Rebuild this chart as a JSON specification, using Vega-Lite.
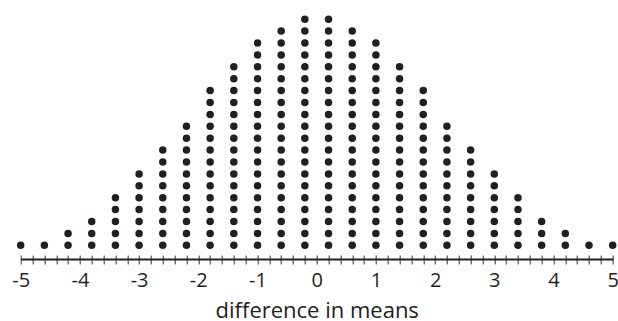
{
  "$schema": "https://vega.github.io/schema/vega-lite/v6.json",
  "width": 592,
  "height": 259,
  "autosize": "none",
  "padding": {"left": 20.7, "top": 0, "right": 5.3, "bottom": 62},
  "background": "white",
  "config": {"view": {"stroke": null}, "font": "Open Sans"},
  "data": {"values": [
    {"diff": -5},
    {"diff": -4.6},
    {"diff": -4.2},{"diff": -4.2},
    {"diff": -3.8},{"diff": -3.8},{"diff": -3.8},
    {"diff": -3.4},{"diff": -3.4},{"diff": -3.4},{"diff": -3.4},{"diff": -3.4},
    {"diff": -3},{"diff": -3},{"diff": -3},{"diff": -3},{"diff": -3},{"diff": -3},{"diff": -3},
    {"diff": -2.6},{"diff": -2.6},{"diff": -2.6},{"diff": -2.6},{"diff": -2.6},{"diff": -2.6},{"diff": -2.6},{"diff": -2.6},{"diff": -2.6},
    {"diff": -2.2},{"diff": -2.2},{"diff": -2.2},{"diff": -2.2},{"diff": -2.2},{"diff": -2.2},{"diff": -2.2},{"diff": -2.2},{"diff": -2.2},{"diff": -2.2},{"diff": -2.2},
    {"diff": -1.8},{"diff": -1.8},{"diff": -1.8},{"diff": -1.8},{"diff": -1.8},{"diff": -1.8},{"diff": -1.8},{"diff": -1.8},{"diff": -1.8},{"diff": -1.8},{"diff": -1.8},{"diff": -1.8},{"diff": -1.8},{"diff": -1.8},
    {"diff": -1.4},{"diff": -1.4},{"diff": -1.4},{"diff": -1.4},{"diff": -1.4},{"diff": -1.4},{"diff": -1.4},{"diff": -1.4},{"diff": -1.4},{"diff": -1.4},{"diff": -1.4},{"diff": -1.4},{"diff": -1.4},{"diff": -1.4},{"diff": -1.4},{"diff": -1.4},
    {"diff": -1},{"diff": -1},{"diff": -1},{"diff": -1},{"diff": -1},{"diff": -1},{"diff": -1},{"diff": -1},{"diff": -1},{"diff": -1},{"diff": -1},{"diff": -1},{"diff": -1},{"diff": -1},{"diff": -1},{"diff": -1},{"diff": -1},{"diff": -1},
    {"diff": -0.6},{"diff": -0.6},{"diff": -0.6},{"diff": -0.6},{"diff": -0.6},{"diff": -0.6},{"diff": -0.6},{"diff": -0.6},{"diff": -0.6},{"diff": -0.6},{"diff": -0.6},{"diff": -0.6},{"diff": -0.6},{"diff": -0.6},{"diff": -0.6},{"diff": -0.6},{"diff": -0.6},{"diff": -0.6},{"diff": -0.6},
    {"diff": -0.2},{"diff": -0.2},{"diff": -0.2},{"diff": -0.2},{"diff": -0.2},{"diff": -0.2},{"diff": -0.2},{"diff": -0.2},{"diff": -0.2},{"diff": -0.2},{"diff": -0.2},{"diff": -0.2},{"diff": -0.2},{"diff": -0.2},{"diff": -0.2},{"diff": -0.2},{"diff": -0.2},{"diff": -0.2},{"diff": -0.2},{"diff": -0.2},
    {"diff": 0.2},{"diff": 0.2},{"diff": 0.2},{"diff": 0.2},{"diff": 0.2},{"diff": 0.2},{"diff": 0.2},{"diff": 0.2},{"diff": 0.2},{"diff": 0.2},{"diff": 0.2},{"diff": 0.2},{"diff": 0.2},{"diff": 0.2},{"diff": 0.2},{"diff": 0.2},{"diff": 0.2},{"diff": 0.2},{"diff": 0.2},{"diff": 0.2},
    {"diff": 0.6},{"diff": 0.6},{"diff": 0.6},{"diff": 0.6},{"diff": 0.6},{"diff": 0.6},{"diff": 0.6},{"diff": 0.6},{"diff": 0.6},{"diff": 0.6},{"diff": 0.6},{"diff": 0.6},{"diff": 0.6},{"diff": 0.6},{"diff": 0.6},{"diff": 0.6},{"diff": 0.6},{"diff": 0.6},{"diff": 0.6},
    {"diff": 1},{"diff": 1},{"diff": 1},{"diff": 1},{"diff": 1},{"diff": 1},{"diff": 1},{"diff": 1},{"diff": 1},{"diff": 1},{"diff": 1},{"diff": 1},{"diff": 1},{"diff": 1},{"diff": 1},{"diff": 1},{"diff": 1},{"diff": 1},
    {"diff": 1.4},{"diff": 1.4},{"diff": 1.4},{"diff": 1.4},{"diff": 1.4},{"diff": 1.4},{"diff": 1.4},{"diff": 1.4},{"diff": 1.4},{"diff": 1.4},{"diff": 1.4},{"diff": 1.4},{"diff": 1.4},{"diff": 1.4},{"diff": 1.4},{"diff": 1.4},
    {"diff": 1.8},{"diff": 1.8},{"diff": 1.8},{"diff": 1.8},{"diff": 1.8},{"diff": 1.8},{"diff": 1.8},{"diff": 1.8},{"diff": 1.8},{"diff": 1.8},{"diff": 1.8},{"diff": 1.8},{"diff": 1.8},{"diff": 1.8},
    {"diff": 2.2},{"diff": 2.2},{"diff": 2.2},{"diff": 2.2},{"diff": 2.2},{"diff": 2.2},{"diff": 2.2},{"diff": 2.2},{"diff": 2.2},{"diff": 2.2},{"diff": 2.2},
    {"diff": 2.6},{"diff": 2.6},{"diff": 2.6},{"diff": 2.6},{"diff": 2.6},{"diff": 2.6},{"diff": 2.6},{"diff": 2.6},{"diff": 2.6},
    {"diff": 3},{"diff": 3},{"diff": 3},{"diff": 3},{"diff": 3},{"diff": 3},{"diff": 3},
    {"diff": 3.4},{"diff": 3.4},{"diff": 3.4},{"diff": 3.4},{"diff": 3.4},
    {"diff": 3.8},{"diff": 3.8},{"diff": 3.8},
    {"diff": 4.2},{"diff": 4.2},
    {"diff": 4.6},
    {"diff": 5}
  ]},
  "transform": [
    {"window": [{"op": "row_number", "as": "level"}], "groupby": ["diff"]}
  ],
  "layer": [
    {
      "mark": {"type": "circle", "size": 56, "opacity": 1, "color": "#231f20"},
      "encoding": {
        "x": {
          "field": "diff", "type": "quantitative",
          "scale": {"domain": [-5, 5], "nice": false, "zero": false},
          "axis": {
            "orient": "bottom",
            "values": [-5,-4.8,-4.6,-4.4,-4.2,-4,-3.8,-3.6,-3.4,-3.2,-3,-2.8,-2.6,-2.4,-2.2,-2,-1.8,-1.6,-1.4,-1.2,-1,-0.8,-0.6,-0.4,-0.2,0,0.2,0.4,0.6,0.8,1,1.2,1.4,1.6,1.8,2,2.2,2.4,2.6,2.8,3,3.2,3.4,3.6,3.8,4,4.2,4.4,4.6,4.8,5],
            "labelExpr": "abs(datum.value - round(datum.value)) < 0.001 ? '' + round(datum.value) : ''",
            "domain": false,
            "grid": false,
            "offset": -4,
            "tickSize": 9,
            "tickColor": "#333333",
            "tickWidth": 1,
            "labelFont": "Open Sans",
            "labelFontSize": 20,
            "labelColor": "#231f20",
            "labelPadding": 6,
            "labelOverlap": false,
            "labelFlush": false,
            "title": "difference in means",
            "titleFont": "Open Sans",
            "titleFontSize": 22,
            "titleFontWeight": "normal",
            "titleColor": "#231f20",
            "titlePadding": 10
          }
        },
        "y": {
          "field": "level", "type": "quantitative",
          "scale": {"domain": [-0.151, 21.614], "nice": false, "zero": false},
          "axis": null
        }
      }
    },
    {
      "mark": {"type": "circle", "size": 56, "opacity": 0},
      "encoding": {
        "x": {
          "field": "diff", "type": "quantitative",
          "axis": {"orient": "bottom", "domain": true, "domainColor": "#231f20", "domainWidth": 2, "ticks": false, "labels": false, "grid": false, "title": null}
        },
        "y": {"field": "level", "type": "quantitative", "axis": null}
      }
    }
  ],
  "resolve": {"axis": {"x": "independent"}}
}
